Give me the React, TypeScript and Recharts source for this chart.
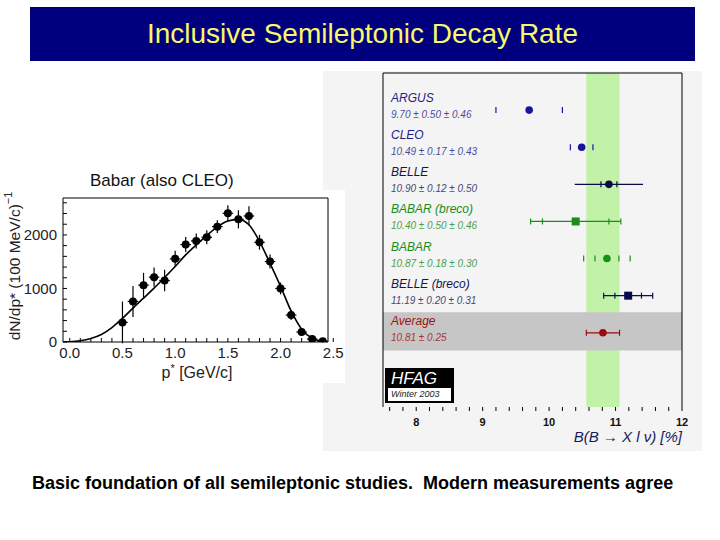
import React from 'react';
import { ComposedChart, Line, Scatter, ErrorBar, XAxis, YAxis, ReferenceArea } from 'recharts';

const FONT = 'Arial, "Liberation Sans", Helvetica, sans-serif';

// Babar lepton momentum spectrum (left)
const pBins = [0.5, 0.6, 0.7, 0.8, 0.9, 1.0, 1.1, 1.2, 1.3, 1.4, 1.5, 1.6, 1.7, 1.8, 1.9, 2.0, 2.1, 2.2, 2.3, 2.4];
const counts = [366, 758, 1062, 1211, 1149, 1553, 1820, 1888, 1956, 2155, 2404, 2292, 2354, 1863, 1503, 1000, 503, 186, 56, 12];
const countErr = [390, 290, 230, 180, 200, 150, 140, 140, 130, 120, 150, 170, 180, 140, 130, 110, 90, 60, 40, 20];
const binHalfWidth = 0.05;

const fitP = [-0.06, 0, 0.1, 0.2, 0.3, 0.4, 0.5, 0.6, 0.7, 0.8, 0.9, 1.0, 1.1, 1.2, 1.3, 1.4, 1.5, 1.6, 1.7, 1.8, 1.9, 2.0, 2.1, 2.2, 2.3, 2.4, 2.45];
const fitN = [0, 3, 22, 65, 140, 270, 440, 634, 820, 1006, 1205, 1410, 1627, 1814, 1988, 2150, 2260, 2290, 2190, 1880, 1470, 1040, 580, 240, 70, 12, 2];

const pLabels = [0, 0.5, 1.0, 1.5, 2.0, 2.5];
const nLabels = [0, 1000, 2000];

// HFAG branching fraction summary (right)
const experiments = ['ARGUS', 'CLEO', 'BELLE', 'BABAR (breco)', 'BABAR', 'BELLE (breco)', 'Average'];
const brValues = [9.70, 10.49, 10.90, 10.40, 10.87, 11.19, 10.81];
const statErr = [0.50, 0.17, 0.12, 0.50, 0.18, 0.20, 0.25];
const systErr = [0.46, 0.43, 0.50, 0.46, 0.30, 0.31, 0];
const brLabels = [8, 9, 10, 11, 12];

const rowStyles = [
  { color: '#1515a0', text: '#1c1c88', shape: 'circle', line: false, totalCaps: false },
  { color: '#1515a0', text: '#1c1c88', shape: 'circle', line: false, totalCaps: false },
  { color: '#0a0a45', text: '#141450', shape: 'circle', line: true, totalCaps: false },
  { color: '#169016', text: '#1a8c1a', shape: 'square', line: true, totalCaps: true },
  { color: '#169016', text: '#1a8c1a', shape: 'circle', line: false, totalCaps: true },
  { color: '#0a0a50', text: '#141450', shape: 'square', line: true, totalCaps: true },
  { color: '#9a0a0a', text: '#a01010', shape: 'circle', line: true, totalCaps: false },
];

const total = (i: number) => Math.sqrt(statErr[i] ** 2 + systErr[i] ** 2);
const avgIdx = experiments.length - 1;

const spectrumPoints = pBins.map((p, i) => ({ p, v: counts[i], e: countErr[i], ex: binHalfWidth }));
const fitData = fitP.map((p, i) => ({ p, v: fitN[i] }));

const range = (from: number, to: number, step: number) => {
  const out: number[] = [];
  for (let k = 0; from + k * step <= to + 1e-9; k++) out.push(+(from + k * step).toFixed(3));
  return out;
};
const pMinor = range(0, 2.5, 0.1);
const nMinor = range(0, 2600, 200);
const brMinor = range(7.6, 12, 0.2);

const P_DOMAIN: [number, number] = [-0.064, 2.45];
const N_DOMAIN: [number, number] = [0, 2690];

const isIn = (v: number, list: number[]) => list.some((l) => Math.abs(l - v) < 1e-6);

function PTick({ x, y, payload }: any) {
  if (!isIn(payload.value, pLabels)) return null;
  return (
    <text x={x} y={y} dy="0.8em" textAnchor="middle" fontSize={15} fontFamily={FONT} fill="#222">
      {payload.value.toFixed(1)}
    </text>
  );
}

function NTick({ x, y, payload }: any) {
  if (!isIn(payload.value, nLabels)) return null;
  return (
    <text x={x} y={y} dy="0.35em" textAnchor="end" fontSize={15} fontFamily={FONT} fill="#222">
      {payload.value}
    </text>
  );
}

function BrTick({ x, y, payload }: any) {
  if (!isIn(payload.value, brLabels)) return null;
  return (
    <text x={x} y={y} dy="0.8em" textAnchor="middle" fontSize={11} fontWeight="bold" fontFamily={FONT} fill="#111">
      {payload.value}
    </text>
  );
}

function ExperimentTick({ x, y, payload }: any) {
  const i = payload.value;
  const st = rowStyles[i];
  if (!st) return null;
  const summary = systErr[i]
    ? `${brValues[i].toFixed(2)} ± ${statErr[i].toFixed(2)} ± ${systErr[i].toFixed(2)}`
    : `${brValues[i].toFixed(2)} ± ${statErr[i].toFixed(2)}`;
  return (
    <g fontFamily={FONT} fontStyle="italic">
      <text x={x} y={y - 8} fontSize={12} fill={st.text} textAnchor="start">{experiments[i]}</text>
      <text x={x} y={y + 8} fontSize={10} fill={st.text} textAnchor="start" opacity={0.8}>{summary}</text>
    </g>
  );
}

function SpectrumChart() {
  return (
    <ComposedChart width={345} height={193} margin={{ top: 8, right: 17, bottom: 0, left: 15 }}>
      <XAxis
        dataKey="p"
        type="number"
        domain={P_DOMAIN}
        allowDataOverflow
        ticks={pMinor}
        interval={0}
        tick={<PTick />}
        tickSize={-4}
        tickMargin={8}
        height={41}
        stroke="#000"
        label={({ viewBox }: any) => (
          <text x={viewBox.x + 134} y={viewBox.y + 36} textAnchor="middle" fontSize={16} fontFamily={FONT} fill="#222">
            p<tspan dy={-6} fontSize={11}>*</tspan>
            <tspan dy={6}> [GeV/c]</tspan>
          </text>
        )}
      />
      <XAxis xAxisId="top" dataKey="p" orientation="top" mirror height={1} type="number" domain={P_DOMAIN} allowDataOverflow ticks={pMinor.slice(0, -1)} interval={0} tick={false} tickSize={4} stroke="#000" />
      <YAxis
        dataKey="v"
        type="number"
        domain={N_DOMAIN}
        allowDataOverflow
        ticks={nMinor}
        interval={0}
        tick={<NTick />}
        tickSize={-4}
        tickMargin={10}
        width={48}
        stroke="#000"
        label={({ viewBox }: any) => {
          const cx = viewBox.x - 1;
          const cy = viewBox.y + viewBox.height / 2 - 4;
          return (
            <text x={cx} y={cy} transform={`rotate(-90 ${cx} ${cy})`} textAnchor="middle" dominantBaseline="central" fontSize={15.5} fontFamily={FONT} fill="#222">
              dN/dp* (100 MeV/c)<tspan dy={-6} fontSize={11}>−1</tspan>
            </text>
          );
        }}
      />
      <YAxis yAxisId="right" dataKey="v" orientation="right" mirror width={1} type="number" domain={N_DOMAIN} allowDataOverflow ticks={nMinor} interval={0} tick={false} tickSize={4} stroke="#000" />
      <Line xAxisId="top" yAxisId="right" data={fitData} dataKey="v" type="monotone" stroke="#000" strokeWidth={1.6} dot={false} isAnimationActive={false} />
      <Scatter
        data={spectrumPoints}
        dataKey="v"
        isAnimationActive={false}
        shape={(props: any) => <circle cx={props.cx} cy={props.cy} r={4} fill="#000" />}
      >
        <ErrorBar dataKey="e" direction="y" width={0} stroke="#000" strokeWidth={1.2} />
        <ErrorBar dataKey="ex" direction="x" width={0} stroke="#000" strokeWidth={1.2} />
      </Scatter>
    </ComposedChart>
  );
}

function Marker({ cx, cy, shape, color }: any) {
  if (shape === 'square') return <rect x={cx - 4} y={cy - 4} width={8} height={8} fill={color} />;
  return <circle cx={cx} cy={cy} r={3.8} fill={color} />;
}

function BranchingChart() {
  const ticksData = experiments.flatMap((_, i) => {
    const c = rowStyles[i].color;
    const out = [
      { x: brValues[i] - statErr[i], y: i, c },
      { x: brValues[i] + statErr[i], y: i, c },
    ];
    if (rowStyles[i].totalCaps) {
      out.push({ x: brValues[i] - total(i), y: i, c }, { x: brValues[i] + total(i), y: i, c });
    }
    return out;
  });
  return (
    <ComposedChart width={379} height={380} margin={{ top: 2, right: 20, bottom: 0, left: 60 }}>
      <ReferenceArea x1={brValues[avgIdx] - total(avgIdx)} x2={brValues[avgIdx] + total(avgIdx)} y1={-1} y2={8} fill="#c2f2a8" fillOpacity={1} stroke="none" />
      <ReferenceArea y1={avgIdx - 0.55} y2={avgIdx + 0.48} x1={7.5} x2={12} fill="#c6c6c6" fillOpacity={1} stroke="none" />
      <XAxis
        dataKey="x"
        type="number"
        domain={[7.5, 12]}
        allowDataOverflow
        ticks={brMinor}
        interval={0}
        tick={<BrTick />}
        tickSize={4}
        tickMargin={6}
        axisLine={false}
        height={44}
        stroke="#000"
        label={({ viewBox }: any) => (
          <text x={viewBox.x + viewBox.width} y={viewBox.y + 35} textAnchor="end" fontSize={15} fontStyle="italic" fontFamily={FONT} fill="#1a1a5a">
            B(B → X l ν) [%]
          </text>
        )}
      />
      <XAxis xAxisId="top" orientation="top" mirror height={1} type="number" domain={[7.5, 12]} allowDataOverflow tick={false} tickLine={false} stroke="#000" />
      <YAxis
        dataKey="y"
        type="number"
        domain={[-1, 8]}
        reversed
        allowDataOverflow
        ticks={experiments.map((_, i) => i)}
        interval={0}
        mirror
        width={1}
        tickLine={false}
        tickSize={0}
        tickMargin={8}
        tick={<ExperimentTick />}
        stroke="#000"
      />
      <YAxis yAxisId="right" orientation="right" mirror width={1} type="number" domain={[-1, 8]} reversed allowDataOverflow tick={false} tickLine={false} stroke="#000" />
      <Scatter
        data={ticksData}
        isAnimationActive={false}
        shape={(props: any) => <line x1={props.cx} x2={props.cx} y1={props.cy - 3} y2={props.cy + 3} stroke={props.payload.c} strokeWidth={1.2} />}
      />
      {experiments.map((name, i) => (
        <Scatter
          key={name}
          data={[{ x: brValues[i], y: i, tot: total(i) }]}
          isAnimationActive={false}
          shape={(props: any) => <Marker cx={props.cx} cy={props.cy} shape={rowStyles[i].shape} color={rowStyles[i].color} />}
        >
          {rowStyles[i].line && <ErrorBar dataKey="tot" direction="x" width={0} stroke={rowStyles[i].color} strokeWidth={1.3} />}
        </Scatter>
      ))}
    </ComposedChart>
  );
}

export default function App() {
  return (
    <div style={{ position: 'absolute', left: 0, top: 0, width: 720, height: 540, background: '#fff', fontFamily: FONT, overflow: 'hidden' }}>
      <div
        style={{
          position: 'absolute', left: 30, top: 7, width: 665, height: 54, background: '#00007e',
          color: '#f8f86a', fontSize: 28, lineHeight: '54px', textAlign: 'center',
        }}
      >
        Inclusive Semileptonic Decay Rate
      </div>

      <div style={{ position: 'absolute', left: 323, top: 71, width: 379, height: 380, background: '#f4f4f4' }}>
        <BranchingChart />
      </div>

      <div style={{ position: 'absolute', left: 385, top: 368, width: 69, height: 35, background: '#000' }}>
        <div style={{ position: 'absolute', left: 6, top: 1, color: '#fff', fontSize: 17, fontStyle: 'italic' }}>HFAG</div>
        <div style={{ position: 'absolute', left: 3, top: 20, width: 63, height: 13, background: '#fff', color: '#222', fontSize: 9, fontStyle: 'italic', lineHeight: '13px', paddingLeft: 3, boxSizing: 'border-box' }}>
          Winter 2003
        </div>
      </div>

      <div style={{ position: 'absolute', left: 0, top: 190, width: 345, height: 193, background: '#fff' }}>
        <SpectrumChart />
      </div>

      <div style={{ position: 'absolute', left: 90, top: 171, fontSize: 17, color: '#111' }}>Babar (also CLEO)</div>

      <div style={{ position: 'absolute', left: 32, top: 473, fontSize: 18, fontWeight: 'bold', color: '#000', whiteSpace: 'pre' }}>
        {'Basic foundation of all semileptonic studies.  Modern measurements agree'}
      </div>
    </div>
  );
}
